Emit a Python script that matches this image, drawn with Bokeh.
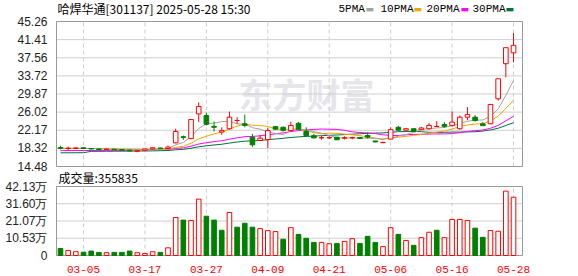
from bokeh.plotting import figure
from bokeh.models import Range1d, FixedTicker, Label, ColumnDataSource
from bokeh.embed import file_html
from bokeh.resources import INLINE

# ---------------- data ----------------
dates = ["02-28", "03-03", "03-04", "03-05", "03-06", "03-07", "03-10", "03-11", "03-12", "03-13",
         "03-14", "03-17", "03-18", "03-19", "03-20", "03-21", "03-24", "03-25", "03-26", "03-27",
         "03-28", "03-31", "04-01", "04-02", "04-03", "04-07", "04-08", "04-09", "04-10", "04-11",
         "04-14", "04-15", "04-16", "04-17", "04-18", "04-21", "04-22", "04-23", "04-24", "04-25",
         "04-28", "04-29", "04-30", "05-06", "05-07", "05-08", "05-09", "05-12", "05-13", "05-14",
         "05-15", "05-16", "05-19", "05-20", "05-21", "05-22", "05-23", "05-26", "05-27", "05-28"]

opens = [18.50, 18.30, 18.30, 18.45, 18.30, 18.20, 18.10, 18.15, 18.05, 17.95,
         17.75, 17.90, 18.20, 18.40, 18.30, 19.50, 20.80, 20.40, 25.65, 25.30,
         23.00, 21.80, 22.50, 24.25, 23.55, 20.70, 20.00, 20.20, 22.95, 22.80,
         22.10, 23.65, 21.95, 21.00, 20.55, 20.55, 20.70, 20.50, 20.55, 20.65,
         21.05, 19.90, 19.55, 20.30, 22.80, 22.20, 22.50, 22.30, 22.50, 22.95,
         23.40, 23.20, 22.50, 24.95, 24.95, 23.55, 23.55, 28.85, 36.30, 38.60]

closes = [18.30, 18.35, 18.40, 18.30, 18.20, 18.10, 18.15, 18.05, 17.95, 17.80,
          17.85, 18.20, 18.45, 18.30, 18.60, 21.90, 20.65, 24.45, 27.20, 23.45,
          22.80, 22.10, 24.95, 24.25, 23.20, 19.10, 20.50, 22.10, 22.40, 22.15,
          23.20, 22.40, 21.05, 20.55, 20.60, 20.62, 20.15, 20.60, 20.65, 20.45,
          20.70, 19.70, 19.60, 22.30, 22.20, 22.50, 21.95, 22.65, 23.20, 23.00,
          23.00, 23.90, 24.95, 25.50, 24.25, 23.15, 27.65, 33.10, 39.70, 40.20]

highs = [18.90, 18.70, 18.50, 18.50, 18.35, 18.25, 18.25, 18.20, 18.10, 18.00,
         17.90, 18.25, 18.50, 18.50, 18.95, 22.50, 21.05, 24.50, 28.10, 25.90,
         24.00, 22.80, 26.15, 24.95, 25.50, 21.40, 21.20, 22.70, 23.00, 22.95,
         24.00, 23.90, 22.80, 21.40, 21.00, 20.90, 20.75, 20.90, 20.80, 20.70,
         21.70, 19.95, 19.75, 22.80, 23.10, 22.60, 22.55, 22.90, 23.70, 24.10,
         23.90, 26.20, 25.30, 27.10, 25.40, 23.90, 27.70, 33.10, 39.70, 42.80]

lows = [18.10, 17.90, 18.20, 18.20, 18.10, 18.00, 18.00, 17.95, 17.85, 17.70,
        17.50, 17.80, 18.10, 18.20, 18.20, 19.40, 20.15, 20.30, 23.90, 23.20,
        21.90, 21.20, 22.30, 23.55, 22.80, 18.60, 19.90, 18.40, 22.30, 21.90,
        22.05, 22.30, 20.85, 20.50, 20.20, 20.30, 20.10, 20.20, 20.25, 20.30,
        20.40, 19.60, 19.40, 20.20, 22.10, 22.00, 21.90, 22.20, 22.30, 22.85,
        22.70, 22.90, 22.30, 24.30, 24.00, 23.10, 23.50, 28.50, 33.40, 36.60]

# volume in 万 (10k shares)
volumes = [4.3, 3.1, 2.3, 2.0, 2.7, 1.9, 1.7, 1.9, 1.9, 2.7,
           1.7, 1.2, 2.3, 1.9, 4.7, 23.2, 21.6, 21.4, 34.4, 24.0,
           21.6, 15.4, 26.3, 17.3, 19.7, 17.3, 16.4, 15.2, 14.6, 9.9,
           17.0, 12.9, 10.5, 8.0, 8.0, 7.2, 7.4, 8.6, 10.3, 7.4,
           11.7, 8.0, 5.4, 17.0, 12.9, 9.2, 6.2, 10.9, 14.2, 15.4,
           10.9, 22.0, 22.0, 21.4, 16.7, 11.1, 15.2, 14.8, 39.3, 35.5835]

# volume bar direction (1 = rising / red, 0 = falling / green)
vol_up = [0, 1, 1, 0, 0, 0, 1, 0, 0, 0,
          1, 1, 1, 0, 1, 1, 0, 1, 1, 0,
          0, 0, 1, 0, 0, 0, 1, 1, 1, 0,
          1, 0, 0, 0, 1, 1, 0, 1, 1, 0,
          0, 0, 1, 1, 0, 1, 0, 1, 1, 0,
          1, 1, 1, 1, 0, 0, 1, 1, 1, 1]

ma5 = [18.30, 18.32, 18.35, 18.33, 18.31, 18.27, 18.23, 18.16, 18.09, 18.01,
       17.96, 17.97, 18.05, 18.12, 18.28, 19.09, 19.58, 20.78, 22.56, 23.53,
       23.71, 24.00, 24.10, 23.51, 23.46, 22.72, 22.40, 21.83, 21.46, 21.25,
       22.07, 22.45, 22.24, 21.87, 21.56, 21.04, 20.59, 20.50, 20.52, 20.49,
       20.51, 20.42, 20.22, 20.55, 20.90, 21.26, 21.71, 22.32, 22.50, 22.66,
       22.76, 23.15, 23.61, 24.07, 24.32, 24.35, 25.10, 26.73, 29.57, 32.76]

ma10 = [18.35, 18.35, 18.34, 18.32, 18.30, 18.27, 18.24, 18.21, 18.18, 18.16,
        18.12, 18.10, 18.10, 18.10, 18.15, 18.53, 18.78, 19.42, 20.34, 20.90,
        21.40, 21.79, 22.44, 23.04, 23.50, 23.22, 23.20, 22.97, 22.49, 22.36,
        22.40, 22.43, 22.04, 21.67, 21.41, 21.56, 21.52, 21.37, 21.20, 21.03,
        20.78, 20.51, 20.36, 20.54, 20.70, 20.89, 21.07, 21.27, 21.53, 21.78,
        22.01, 22.43, 22.97, 23.29, 23.49, 23.56, 24.13, 25.17, 26.82, 28.54]

ma20 = [17.85, 17.86, 17.87, 17.87, 17.88, 17.88, 17.89, 17.90, 17.90, 17.92,
        18.00, 18.03, 18.06, 18.08, 18.11, 18.31, 18.45, 18.78, 19.25, 19.53,
        19.76, 19.95, 20.27, 20.57, 20.82, 20.87, 20.99, 21.19, 21.41, 21.63,
        21.90, 22.11, 22.24, 22.35, 22.45, 22.39, 22.36, 22.17, 21.84, 21.69,
        21.59, 21.47, 21.20, 21.10, 21.05, 21.22, 21.29, 21.32, 21.36, 21.40,
        21.39, 21.47, 21.66, 21.91, 22.09, 22.22, 22.60, 23.22, 24.17, 25.16]

ma30 = [17.38, 17.39, 17.40, 17.41, 17.70, 17.71, 17.72, 17.73, 17.74, 17.75,
        17.76, 17.78, 17.80, 17.83, 17.87, 18.02, 18.12, 18.35, 18.67, 18.87,
        19.05, 19.20, 19.45, 19.67, 19.86, 19.91, 20.01, 20.16, 20.32, 20.47,
        20.64, 20.77, 20.86, 20.94, 21.02, 21.10, 21.17, 21.25, 21.34, 21.43,
        21.52, 21.57, 21.61, 21.75, 21.87, 21.89, 21.93, 21.87, 21.74, 21.72,
        21.73, 21.79, 21.79, 21.83, 21.86, 22.00, 22.24, 22.60, 23.18, 23.78]

price_ticks = [14.48, 18.32, 22.17, 26.02, 29.87, 33.72, 37.56, 41.41, 45.26]
vol_ticks = [0.0, 10.53, 21.07, 31.60, 42.13]
vol_tick_labels = ["0", "10.53万", "21.07万", "31.60万", "42.13万"]
date_labels = ["03-05", "03-17", "03-27", "04-09", "04-21", "05-06", "05-16", "05-28"]
title_text = "哈焊华通[301137] 2025-05-28 15:30"
ma_names = ["5PMA", "10PMA", "20PMA", "30PMA"]

# ---------------- layout (pixels) ----------------
W, H = 578, 276
BOX_L, BOX_R = 56, 522            # left / right edges of both boxes
FRAME_L, FRAME_R = 55, 523        # frame 1px wider than boxes so box edges are not clipped
PRICE_T, PRICE_B = 21, 166        # price box top / bottom
VOL_T, VOL_B = 186, 255           # volume box top / bottom
FRAME_B = 256

UP = "#ff0000"
DOWN = "#008000"
MA_COLORS = ["#a3a3a3", "#f5a300", "#ff00ff", "#00703c"]
GRID = "#cfcfcf"
FRAME = "#9a9a9a"
LABEL = "#222222"

n = len(closes)
xs = list(range(n))
date_ticks = [dates.index(d) for d in date_labels]

P_LO, P_HI = price_ticks[0], price_ticks[-1]
V_HI = vol_ticks[-1]

x_box_start = -0.52
x_box_end = (n - 1) + 1.17
x_per_px = (x_box_end - x_box_start) / (BOX_R - BOX_L)
x_start = x_box_start - (BOX_L - FRAME_L) * x_per_px
x_end = x_box_end + (FRAME_R - BOX_R) * x_per_px

p_per_px = (P_HI - P_LO) / (PRICE_B - PRICE_T)
y_start = P_LO - (FRAME_B - PRICE_B) * p_per_px
y_end = P_HI + PRICE_T * p_per_px

v_per_px = V_HI / (VOL_B - VOL_T)
v_start = -(FRAME_B - VOL_B) * v_per_px
v_end = V_HI + VOL_T * v_per_px


def px2x(px):
    return x_box_start + (px - BOX_L) * x_per_px


def py2p(py):
    return P_HI - (py - PRICE_T) * p_per_px


def py2v(py):
    return (VOL_B - py) * v_per_px


up = [c >= o for o, c in zip(opens, closes)]
src = ColumnDataSource(dict(
    x=xs, high=highs, low=lows,
    top=[max(o, c) for o, c in zip(opens, closes)],
    bottom=[min(o, c) for o, c in zip(opens, closes)],
    line=[UP if u else DOWN for u in up],
    fill=["#ffffff" if u else DOWN for u in up],
    vol=volumes,
    vline=[UP if v else DOWN for v in vol_up],
    vfill=["#ffffff" if v else DOWN for v in vol_up],
))

p = figure(width=W, height=H, title=None,
           x_range=Range1d(x_start, x_end), y_range=Range1d(y_start, y_end),
           output_backend="svg", toolbar_location=None,
           x_axis_location="below", y_axis_location="left",
           min_border_left=FRAME_L, min_border_right=W - FRAME_R,
           min_border_top=0, min_border_bottom=H - FRAME_B)
p.extra_y_ranges = {"vol": Range1d(v_start, v_end)}
p.outline_line_color = None
p.background_fill_color = "#ffffff"
p.border_fill_color = "#ffffff"

# left axis: price ticks plus the volume ticks at their matching heights
vol_tick_pos = [py2p(VOL_B - v / v_per_px) for v in vol_ticks]
left_ticks = price_ticks + vol_tick_pos
left_labels = ["%.2f" % t for t in price_ticks] + vol_tick_labels
yax = p.yaxis[0]
yax.ticker = FixedTicker(ticks=left_ticks)
yax.major_label_overrides = {t: s for t, s in zip(left_ticks, left_labels)}
yax.major_tick_line_color = None
yax.minor_tick_line_color = None
yax.axis_line_color = None
yax.major_label_standoff = 2
yax.major_label_text_font = "Liberation Sans"
yax.major_label_text_font_size = "12px"
yax.major_label_text_color = LABEL

# date axis
xax = p.xaxis[0]
xax.ticker = FixedTicker(ticks=date_ticks)
xax.major_label_overrides = {t: dates[t] for t in date_ticks}
xax.major_tick_line_color = None
xax.minor_tick_line_color = None
xax.axis_line_color = None
xax.major_label_standoff = 3
xax.major_label_text_font = "Liberation Mono"
xax.major_label_text_font_size = "11px"
xax.major_label_text_color = UP

p.xgrid.grid_line_color = None
p.ygrid.grid_line_color = None

# watermark
p.add_layout(Label(x=px2x(238), y=py2p(93), text="东方财富", text_font="Noto Sans CJK SC",
                   text_font_style="bold", text_font_size="34px", text_color="#e6e6ea",
                   text_baseline="middle", text_align="left", level="underlay"))

# grid lines inside each box
k = len(date_ticks)
p.segment(x0=date_ticks, y0=[P_LO] * k, x1=date_ticks, y1=[P_HI] * k,
          line_color=GRID, line_width=1, line_dash="4 3")
p.segment(x0=date_ticks, y0=[0] * k, x1=date_ticks, y1=[V_HI] * k,
          line_color=GRID, line_width=1, line_dash="4 3", y_range_name="vol")
kp, kv = len(price_ticks), len(vol_ticks)
p.segment(x0=[x_box_start] * kp, y0=price_ticks, x1=[x_box_end] * kp, y1=price_ticks,
          line_color=GRID, line_width=1)
p.segment(x0=[x_box_start] * kv, y0=vol_ticks, x1=[x_box_end] * kv, y1=vol_ticks,
          line_color=GRID, line_width=1, y_range_name="vol")

# boxes
p.quad(left=[x_box_start], right=[x_box_end], bottom=[P_LO], top=[P_HI],
       fill_color=None, line_color=FRAME, line_width=1)
p.quad(left=[x_box_start], right=[x_box_end], bottom=[0], top=[V_HI],
       fill_color=None, line_color=FRAME, line_width=1, y_range_name="vol")

# moving averages
for ma, col in zip([ma30, ma20, ma10, ma5], MA_COLORS[::-1]):
    p.line(xs, ma, line_color=col, line_width=1)

# candles
p.segment(x0="x", y0="low", x1="x", y1="high", line_color="line", line_width=1, source=src)
p.vbar(x="x", width=0.6, top="top", bottom="bottom", fill_color="fill",
       line_color="line", line_width=1, source=src)

# volume bars
p.vbar(x="x", width=0.6, top="vol", bottom=0, fill_color="vfill",
       line_color="vline", line_width=1, source=src, y_range_name="vol")

# header texts
p.add_layout(Label(x=px2x(57), y=py2p(8), text=title_text, text_font="Noto Sans CJK SC",
                   text_font_size="12px", text_color="#000000",
                   text_baseline="middle", text_align="left"))
legend_text_px = [338, 380, 426, 472]
legend_mark_px = [365, 413, 460, 505]
for name, col, tx, mx in zip(ma_names, MA_COLORS, legend_text_px, legend_mark_px):
    p.add_layout(Label(x=px2x(tx), y=py2p(8.5), text=name, text_font="Liberation Mono",
                       text_font_size="11px", text_color="#000000",
                       text_baseline="middle", text_align="left"))
    p.add_layout(Label(x=px2x(mx), y=py2p(8.5), text="▬", text_font="DejaVu Sans",
                       text_font_size="9px", text_color=col,
                       text_baseline="middle", text_align="left"))

# volume caption
p.add_layout(Label(x=px2x(58), y=py2v(177), y_range_name="vol",
                   text="成交量:%d" % round(volumes[-1] * 10000),
                   text_font="Noto Sans CJK SC", text_font_size="12px", text_color="#000000",
                   text_baseline="middle", text_align="left"))

open("out.html", "w").write(file_html(p, INLINE))
